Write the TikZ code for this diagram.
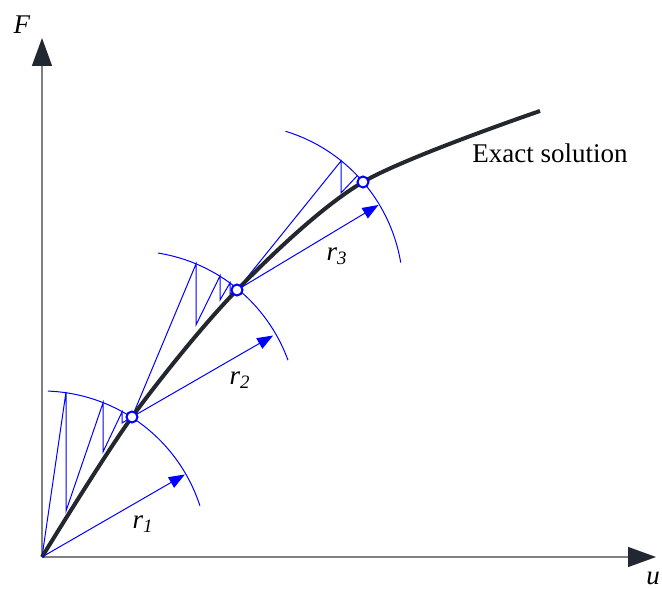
\documentclass[tikz,border=0pt]{standalone}
\usepackage{fontspec}
\setmainfont{Liberation Serif}[ItalicFont={Liberation Serif Italic}]
\usepackage{tikz}
\usetikzlibrary{arrows.meta}

\definecolor{curvedark}{RGB}{35,39,46}
\definecolor{axisgray}{RGB}{128,128,128}
\definecolor{tipdark}{RGB}{34,40,50}

\begin{document}
\begin{tikzpicture}[
  x=0.5pt, y=0.5pt,
  font=\fontsize{13.5}{16}\selectfont,
  axis/.style={draw=axisgray, line width=0.7pt, -{Triangle[length=14pt, width=10pt, color=tipdark]}},
  exact/.style={draw=curvedark, line width=2pt},
  iter/.style={draw=blue, line width=0.5pt},
  rarrow/.style={iter, -{Triangle[length=8pt, width=6pt]}},
  solpt/.style={circle, draw=blue, fill=white, line width=1pt, minimum size=5.5pt, inner sep=0pt}
]
  \useasboundingbox (0,0) rectangle (662,588);

  \coordinate (o) at (42,31);
  \coordinate (s1) at (132,171);
  \coordinate (s2) at (237,298);
  \coordinate (s3) at (363,406);
  \coordinate (xend) at (656,31);
  \coordinate (yend) at (42,550);

  \draw[axis] (o) -- (xend);
  \draw[axis] (o) -- (yend);
  \node (flabel) at (22,563) {\textit{F}};
  \node[anchor=west, inner sep=0pt] (ulabel) at (646,10) {\textit{u}};

  \draw[iter] (o) ++(18:166) arc[start angle=18, end angle=88, radius=166];
  \draw[iter] (s1) ++(20:166) arc[start angle=20, end angle=81, radius=166];
  \draw[iter] (s2) ++(9.5:166) arc[start angle=9.5, end angle=73, radius=166];

  \draw[iter] (o) -- (66,196) -- (66,77) -- (103,185) -- (103,136) -- (122,176) -- (122,165) -- (s1);
  \draw[iter] (s1) -- (196,324) -- (196,263) -- (220,312) -- (220,288) -- (230,305) -- (230,294) -- (s2);
  \draw[iter] (s2) -- (341,427) -- (341,395) -- (357,412);

  \draw[exact] plot[smooth] coordinates {(o) (s1) (s2) (s3) (540,477)};

  \draw[rarrow] (o) -- ++(30:165) coordinate (t1);
  \draw[rarrow] (s1) -- ++(30:163) coordinate (t2);
  \draw[rarrow] (s2) -- ++(31:165) coordinate (t3);
  \node (r1label) at (143,64) {\textit{r\textsubscript{1}}};
  \node (r2label) at (240,208) {\textit{r\textsubscript{2}}};
  \node (r3label) at (337,332) {\textit{r\textsubscript{3}}};

  \node[solpt] (p1) at (s1) {};
  \node[solpt] (p2) at (s2) {};
  \node[solpt] (p3) at (s3) {};

  \node[anchor=base west, inner sep=0pt] (exactlabel) at (472,425) {Exact solution};
\end{tikzpicture}
\end{document}
